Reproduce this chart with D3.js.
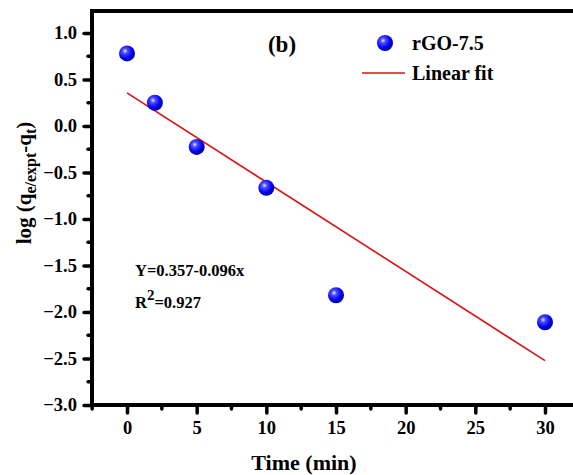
<!DOCTYPE html>
<html>
<head>
<meta charset="utf-8">
<script src="https://cdn.jsdelivr.net/npm/d3@7"></script>
<style>
  body { margin: 0; background: #fff; }
  text { font-family: "Liberation Serif", "Times New Roman", serif; font-weight: bold; }
</style>
</head>
<body>
<div id="the_chart"></div>
<script>
// data
var times = [0, 2, 5, 10, 15, 30];
var logq = [0.78, 0.25, -0.225, -0.665, -1.82, -2.11];
var fitA = 0.357, fitB = -0.096;
var fitX = [0, 30];
var xTicks = [0, 5, 10, 15, 20, 25, 30];
var yTicks = [1.0, 0.5, 0.0, -0.5, -1.0, -1.5, -2.0, -2.5, -3.0];

var w = 573, h = 475;
var svg = d3.select("#the_chart").append("svg")
            .attr("width", w).attr("height", h);

var pLeft = 92, pTop = 11, pBottom = 405, pRight = 600;

var xscale = d3.scaleLinear().domain([0, 30]).range([127, 545]);
var yscale = d3.scaleLinear().domain([-3, 1]).range([pBottom, 33]);

var defs = svg.append("defs");
var grad = defs.append("radialGradient").attr("id", "ball")
    .attr("cx", "38%").attr("cy", "35%").attr("r", "65%");
grad.append("stop").attr("offset", "0%").attr("stop-color", "#e8e8ff");
grad.append("stop").attr("offset", "25%").attr("stop-color", "#4d4dff");
grad.append("stop").attr("offset", "70%").attr("stop-color", "#0000f0");
grad.append("stop").attr("offset", "100%").attr("stop-color", "#0000a8");

// axes
var xaxis = d3.axisBottom(xscale).tickValues(xTicks).tickSize(8).tickPadding(6)
              .tickFormat(d3.format("d"));
var gx = svg.append("g").attr("transform", "translate(0," + pBottom + ")").call(xaxis);
var xminor = d3.range(-2.5, 33, 2.5).filter(function (d) { return d % 5 != 0; });
gx.selectAll(".minor").data(xminor).enter().append("line")
  .attr("x1", function (d) { return xscale(d); }).attr("x2", function (d) { return xscale(d); })
  .attr("y1", 0).attr("y2", 4);

var yaxis = d3.axisLeft(yscale).tickValues(yTicks).tickSize(8).tickPadding(7)
              .tickFormat(d3.format(".1f"));
var gy = svg.append("g").attr("transform", "translate(" + pLeft + ",0)").call(yaxis);
var yminor = d3.range(-2.75, 1.2, 0.5);
gy.selectAll(".minor").data(yminor).enter().append("line")
  .attr("x1", 0).attr("x2", -4)
  .attr("y1", function (d) { return yscale(d); }).attr("y2", function (d) { return yscale(d); });

[gx, gy].forEach(function (g) {
  g.select(".domain").remove();
  g.selectAll("line").attr("stroke", "#000").attr("stroke-width", 3.5).attr("stroke-linecap", "round");
  g.selectAll("text").attr("font-size", 18.5).attr("fill", "#000")
   .style("font-family", "'Liberation Serif', serif").style("font-weight", "bold");
});
gx.selectAll(".tick text").attr("dy", "0.8em");

// frame
svg.append("path")
   .attr("d", "M" + pRight + "," + pTop + "H" + pLeft + "V" + pBottom + "H" + pRight)
   .attr("fill", "none").attr("stroke", "#000").attr("stroke-width", 4);

// fit line
svg.append("line")
   .attr("x1", xscale(fitX[0])).attr("y1", yscale(fitA + fitB * fitX[0]))
   .attr("x2", xscale(fitX[1])).attr("y2", yscale(fitA + fitB * fitX[1]))
   .attr("stroke", "#e01010").attr("stroke-width", 1.6);

// points
svg.selectAll("circle.pt").data(times).enter().append("circle")
   .attr("class", "pt")
   .attr("cx", function (d) { return xscale(d); })
   .attr("cy", function (d, i) { return yscale(logq[i]); })
   .attr("r", 8).attr("fill", "url(#ball)");

// labels
svg.append("text").attr("x", 282).attr("y", 52).attr("text-anchor", "middle")
   .attr("font-size", 23).text("(b)");

svg.append("circle").attr("cx", 385).attr("cy", 43).attr("r", 8).attr("fill", "url(#ball)");
svg.append("text").attr("x", 412).attr("y", 50).attr("font-size", 20).text("rGO-7.5");
svg.append("line").attr("x1", 362).attr("x2", 405).attr("y1", 73).attr("y2", 73)
   .attr("stroke", "#e01010").attr("stroke-width", 1.6);
svg.append("text").attr("x", 412).attr("y", 80).attr("font-size", 20).text("Linear fit");

svg.append("text").attr("x", 135).attr("y", 276).attr("font-size", 16.5).text("Y=0.357-0.096x");
var r2 = svg.append("text").attr("x", 135).attr("y", 308).attr("font-size", 16.5);
r2.append("tspan").text("R");
r2.append("tspan").attr("dy", -8).attr("font-size", 15).text("2");
r2.append("tspan").attr("dy", 8).text("=0.927");

svg.append("text").attr("x", 304).attr("y", 470).attr("text-anchor", "middle")
   .attr("font-size", 22).text("Time (min)");

var yl = svg.append("text").attr("transform", "translate(31,183) rotate(-90)")
   .attr("text-anchor", "middle").attr("font-size", 21);
yl.append("tspan").text("log (q");
yl.append("tspan").attr("dy", 5).attr("font-size", 16).text("e/expt");
yl.append("tspan").attr("dy", -5).text("-q");
yl.append("tspan").attr("dy", 5).attr("font-size", 16).text("t");
yl.append("tspan").attr("dy", -5).text(")");
</script>
</body>
</html>
